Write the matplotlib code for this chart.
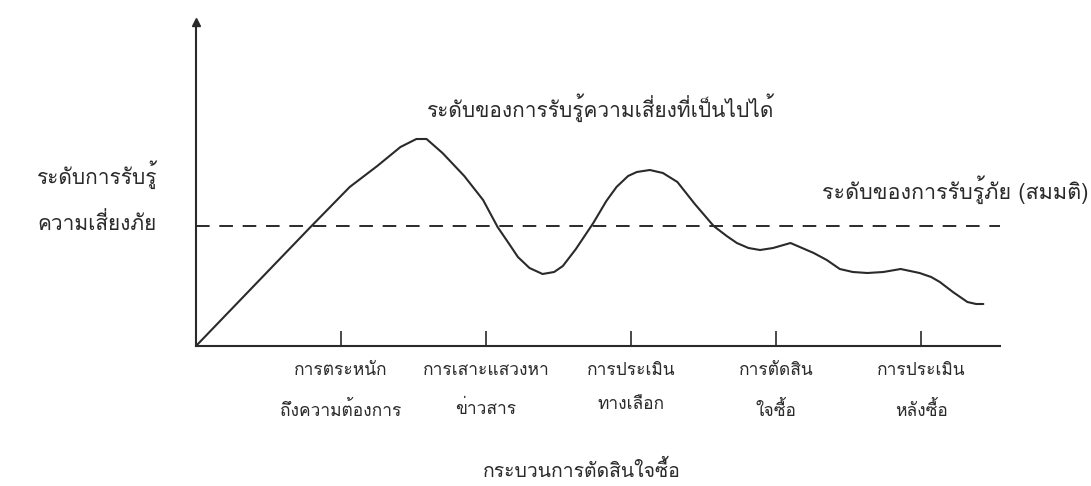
import matplotlib
matplotlib.use("Agg")
import matplotlib.pyplot as plt
from matplotlib import font_manager
from matplotlib.ft2font import FT2Font

# stages of the buying decision (x axis)
stage_x = [1, 2, 3, 4, 5]
stage_labels = [
    "การตระหนัก\nถึงความต้องการ",
    "การเสาะแสวงหา\nข่าวสาร",
    "การประเมิน\nทางเลือก",
    "การตัดสิน\nใจซื้อ",
    "การประเมิน\nหลังซื้อ",
]

# perceived risk curve
risk_x = [0, 0.79, 1.06, 1.25, 1.41, 1.52, 1.59, 1.70, 1.85, 1.98, 2.08, 2.16,
          2.22, 2.30, 2.39, 2.47, 2.53, 2.62, 2.74, 2.83, 2.90, 2.98, 3.04,
          3.13, 3.22, 3.32, 3.44, 3.57, 3.66, 3.73, 3.81, 3.89, 3.98, 4.10,
          4.18, 4.26, 4.35, 4.44, 4.53, 4.63, 4.74, 4.86, 4.99, 5.07, 5.13,
          5.22, 5.32, 5.38, 5.43]
risk_y = [0, 1.19, 1.59, 1.80, 1.99, 2.07, 2.07, 1.93, 1.70, 1.46, 1.19, 1.02,
          0.89, 0.78, 0.72, 0.74, 0.80, 0.97, 1.23, 1.45, 1.59, 1.70, 1.74,
          1.76, 1.73, 1.64, 1.42, 1.20, 1.10, 1.03, 0.98, 0.96, 0.98, 1.03,
          0.98, 0.93, 0.86, 0.77, 0.74, 0.73, 0.74, 0.77, 0.73, 0.69, 0.64,
          0.54, 0.44, 0.42, 0.42]

threshold = 1.20

curve_label = "ระดับของการรับรู้ความเสี่ยงที่เป็นไปได้"
threshold_label = "ระดับของการรับรู้ภัย (สมมติ)"
y_label = "ระดับการรับรู้\nความเสี่ยงภัย"
x_label = "กระบวนการตัดสินใจซื้อ"


def find_thai_font():
    for f in font_manager.fontManager.ttflist:
        try:
            cmap = FT2Font(f.fname).get_charmap()
        except Exception:
            continue
        if 0x0E01 in cmap and 0x0E40 in cmap and 0x0E49 in cmap:
            return f.name
    return None


thai = find_thai_font()
families = [thai, "DejaVu Sans"] if thai else ["DejaVu Sans"]
plt.rcParams["font.family"] = families

ink = "#2a2a2a"

fig = plt.figure(figsize=(10.91, 4.86), dpi=100)
W, H = 1091, 486
ax = fig.add_axes([196 / W, (H - 346) / H, (1000 - 196) / W, (346 - 22) / H])
ax.set_xlim(0, (1000 - 196) / 145)
ax.set_ylim(0, (346 - 22) / 100)

ax.plot(risk_x, risk_y, color=ink, lw=1.5, solid_capstyle="round")
ax.axhline(threshold, color=ink, lw=1.4, ls=(0, (7, 5)))

for s in ["top", "right"]:
    ax.spines[s].set_visible(False)
for s in ["left", "bottom"]:
    ax.spines[s].set_color(ink)
    ax.spines[s].set_linewidth(1.5)

# arrow head on the y axis
ax.plot(0, 1, marker="^", color=ink, ms=6, transform=ax.get_xaxis_transform(),
        clip_on=False)

ax.set_yticks([])
ax.set_xticks(stage_x)
ax.set_xticklabels(stage_labels, fontsize=12.5, color=ink, linespacing=2.5)
ax.tick_params(axis="x", direction="in", length=11, width=1.2, color=ink, pad=12)

# free texts placed in figure pixels (origin bottom-left)
ax.text(601, H - 108, curve_label, transform=None, fontsize=15, color=ink,
        ha="center", va="center")
ax.text(1088, H - 190, threshold_label, transform=None, fontsize=15.5, color=ink,
        ha="right", va="center")
ax.text(97, H - 197, y_label, transform=None, fontsize=15, color=ink,
        ha="center", va="center", multialignment="center", linespacing=2.3)
ax.text(582, H - 470, x_label, transform=None, fontsize=14, color=ink,
        ha="center", va="center")

fig.savefig("out.png", dpi=100)
